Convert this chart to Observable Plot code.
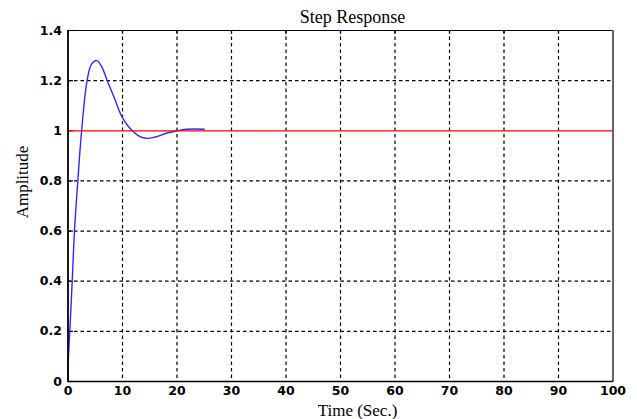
<!DOCTYPE html>
<html>
<head>
<meta charset="utf-8">
<script src="https://cdn.jsdelivr.net/npm/d3@7"></script>
<script src="https://cdn.jsdelivr.net/npm/@observablehq/plot@0.6"></script>
<style>
  html, body { margin: 0; padding: 0; background: #fff; }
  #chart svg { display: block; }
</style>
</head>
<body>
<div id="chart"></div>
<script>
// Step response samples
const time = [0, 0.05, 0.33, 0.77, 1.19, 1.8, 2.5, 3.5, 4.3, 5.3, 6.2, 7.2, 8.7, 9.8, 10.8, 11.8, 12.8, 14.2, 16, 18, 19.7, 21.7, 25];
const amplitude = [0, 0.08, 0.2, 0.4, 0.6, 0.8, 1.0, 1.2, 1.265, 1.28, 1.255, 1.2, 1.12, 1.06, 1.025, 1.0, 0.982, 0.97, 0.975, 0.99, 0.998, 1.006, 1.006];
const reference = [1, 1];
const referenceTime = [0, 100];
const xTicks = [0, 10, 20, 30, 40, 50, 60, 70, 80, 90, 100];
const yTicks = [0, 0.2, 0.4, 0.6, 0.8, 1, 1.2, 1.4];
const titleText = "Step Response";
const xLabel = "Time (Sec.)";
const yLabel = "Amplitude";

const curve = time.map((t, i) => ({t, a: amplitude[i]}));
const refLine = referenceTime.map((t, i) => ({t, a: reference[i]}));
const fmt = d => String(+d.toFixed(1));
const serif = "'Liberation Serif', 'DejaVu Serif', serif";

const chart = Plot.plot({
  width: 637,
  height: 419,
  marginLeft: 67.5,
  marginRight: 24.5,
  marginTop: 30,
  marginBottom: 38,
  style: {fontFamily: "'DejaVu Sans', sans-serif", background: "#fff", overflow: "visible"},
  x: {type: "linear", domain: [0, 100], ticks: xTicks, label: null},
  y: {type: "linear", domain: [0, 1.4], ticks: yTicks, label: null},
  marks: [
    Plot.ruleX(xTicks.slice(1, -1), {stroke: "black", strokeDasharray: "3.5,3", strokeWidth: 1.2}),
    Plot.ruleY(yTicks.slice(1, -1).filter(d => d !== 1), {stroke: "black", strokeDasharray: "3.5,3", strokeWidth: 1.2}),
    Plot.ruleX(xTicks, {y1: 1.4, y2: 1.385, stroke: "black", strokeWidth: 1.2}),
    Plot.ruleY(yTicks, {x1: 0, x2: 1, stroke: "black", strokeWidth: 1.2}),
    Plot.axisX({ticks: xTicks, tickFormat: fmt, tickSize: 0, tickPadding: 5, fontSize: 12.5, fontWeight: 900, fill: "black", label: null}),
    Plot.axisY({ticks: yTicks, tickFormat: fmt, tickSize: 0, tickPadding: 6, fontSize: 12.5, fontWeight: 900, fill: "black", label: null}),
    Plot.line(curve, {x: "t", y: "a", stroke: "#2b2bff", strokeWidth: 1.4, curve: "catmull-rom"}),
    Plot.line(refLine, {x: "t", y: "a", stroke: "#ff0000", strokeWidth: 1.2}),
    Plot.frame({stroke: "black", strokeWidth: 1}),
    Plot.ruleX([100], {stroke: "#666", strokeWidth: 2}),
    Plot.ruleX([0], {stroke: "black", strokeWidth: 1.6}),
    Plot.ruleY([0], {stroke: "black", strokeWidth: 1.6}),
    Plot.text([titleText], {frameAnchor: "top", dx: 12, dy: -8, lineAnchor: "bottom", fontSize: 18, fontFamily: serif, fill: "black"}),
    Plot.text([xLabel], {frameAnchor: "bottom", dx: 17, dy: 34, lineAnchor: "bottom", fontSize: 17, fontFamily: serif, fill: "black"}),
    Plot.text([yLabel], {frameAnchor: "left", dx: -45.5, dy: -24, rotate: -90, textAnchor: "middle", lineAnchor: "middle", fontSize: 17, fontFamily: serif, fill: "black"})
  ]
});
document.getElementById("chart").appendChild(chart);
</script>
</body>
</html>
